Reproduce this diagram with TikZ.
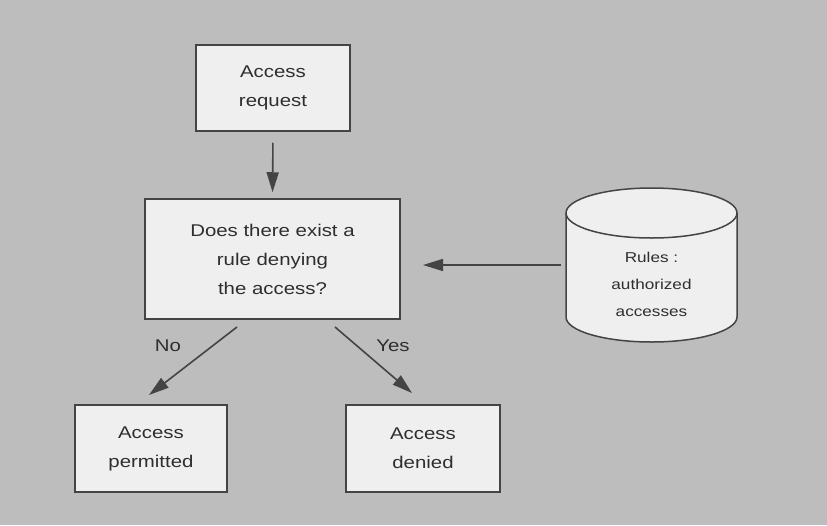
\documentclass[tikz,border=0pt]{standalone}
\usepackage{fontspec}
\setmainfont{Liberation Sans}[FakeStretch=1.2]
\usetikzlibrary{arrows.meta}
\definecolor{bg}{HTML}{BDBDBD}
\definecolor{boxfill}{HTML}{EFEFEF}
\definecolor{ink}{HTML}{444444}
\definecolor{txt}{HTML}{2E2E2E}
\begin{document}
\begin{tikzpicture}[x=1pt,y=-1pt,
  box/.style={draw=ink, line width=1.5pt, fill=boxfill, inner sep=0pt, align=center,
    text=txt, font=\fontsize{17}{29}\selectfont},
  arr/.style={draw=ink, line width=1.6pt, -{Triangle[length=20pt,width=12pt]}},
  lbl/.style={text=txt, font=\fontsize{17}{20}\selectfont}]
\fill[bg] (0,0) rectangle (827,525);
\useasboundingbox (0,0) rectangle (827,525);
\node[box, minimum width=154pt, minimum height=86pt] (req) at (273,88) {Access\\request};
\node[box, minimum width=255pt, minimum height=120pt] (dec) at (272.5,259) {Does there exist a\\rule denying\\the access?};
\node[box, minimum width=152pt, minimum height=87pt] (perm) at (151,448.5) {Access\\permitted};
\node[box, minimum width=154pt, minimum height=87pt] (den) at (423,448.5) {Access\\denied};
% cylinder
\filldraw[fill=boxfill, draw=ink, line width=1.5pt]
  (566,213) -- (566,317) arc[start angle=180, end angle=0, x radius=85.5, y radius=25]
  -- (737,213) arc[start angle=0, end angle=-180, x radius=85.5, y radius=25] -- cycle;
\draw[ink, line width=1.5pt] (566,213) arc[start angle=180, end angle=0, x radius=85.5, y radius=25];
\node[text=txt, align=center, font=\fontsize{14.3}{27}\selectfont] (rules) at (651.5,284) {Rules :\\authorized\\accesses};
\coordinate (cylW) at (561,265);
\coordinate (decR) at (423,265);
\draw[arr, shorten <=11pt, shorten >=6pt] (req.south) -- (dec.north);
\coordinate (noS) at (237,327);
\coordinate (noE) at (149,395);
\coordinate (yesS) at (335,327);
\coordinate (yesE) at (412,393);
\draw[arr] (cylW) -- (decR);
\draw[arr] (noS) -- (noE);
\draw[arr] (yesS) -- (yesE);
\node[lbl] (no) at (168,346) {No};
\node[lbl] (yes) at (393,346) {Yes};
\end{tikzpicture}
\end{document}
